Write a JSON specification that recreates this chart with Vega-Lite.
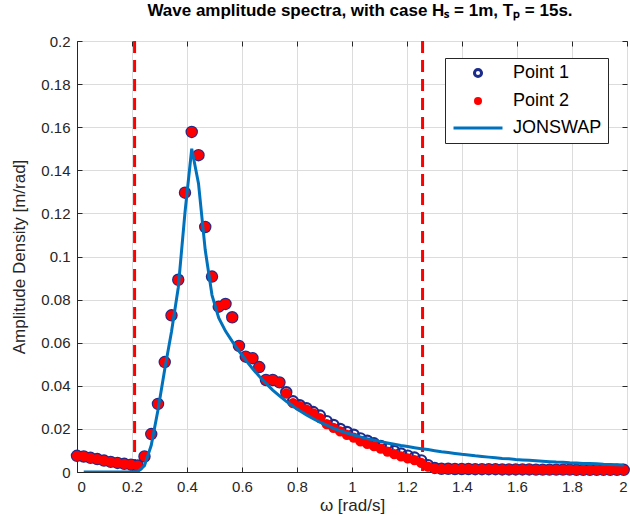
{
  "$schema": "https://vega.github.io/schema/vega-lite/v6.json",
  "autosize": {"type": "none"},
  "width": 550,
  "height": 431,
  "padding": {"left": 77, "top": 41, "right": 3, "bottom": 43},
  "background": "white",
  "title": {
    "text": "Wave amplitude spectra, with case Hₛ = 1m, Tₚ = 15s.",
    "font": "Liberation Sans",
    "fontSize": 17,
    "fontWeight": "bold",
    "color": "black",
    "anchor": "middle",
    "dx": 8,
    "offset": 14
  },
  "config": {
    "view": {"stroke": "#262626", "strokeWidth": 1},
    "axis": {
      "labelFont": "Liberation Sans",
      "titleFont": "Liberation Sans",
      "labelFontSize": 15,
      "titleFontSize": 17,
      "labelColor": "#262626",
      "titleColor": "#262626",
      "titleFontWeight": "normal",
      "domainColor": "#262626",
      "tickColor": "#262626",
      "gridColor": "#dcdcdc",
      "gridOpacity": 1
    },
    "legend": {
      "title": null,
      "orient": "none",
      "legendX": 368,
      "legendY": 17,
      "padding": 6,
      "strokeColor": "#262626",
      "fillColor": "white",
      "labelFont": "Liberation Sans",
      "labelFontSize": 18,
      "labelColor": "black",
      "symbolSize": 60,
      "symbolOffset": 18,
      "labelOffset": 26,
      "rowPadding": 9
    }
  },
  "datasets": {
    "pts": [
      {"w": 0, "a": 0.0075, "s": "Point 1"}, {"w": 0.0245, "a": 0.0072, "s": "Point 1"}, {"w": 0.0491, "a": 0.0066, "s": "Point 1"}, {"w": 0.0736, "a": 0.006, "s": "Point 1"}, {"w": 0.0982, "a": 0.0053, "s": "Point 1"}, {"w": 0.1227, "a": 0.0047, "s": "Point 1"}, {"w": 0.1473, "a": 0.0042, "s": "Point 1"}, {"w": 0.1718, "a": 0.0038, "s": "Point 1"}, {"w": 0.1963, "a": 0.0034, "s": "Point 1"}, {"w": 0.2209, "a": 0.003, "s": "Point 1"},
      {"w": 0.2454, "a": 0.0072, "s": "Point 1"}, {"w": 0.27, "a": 0.0176, "s": "Point 1"}, {"w": 0.2945, "a": 0.0316, "s": "Point 1"}, {"w": 0.3191, "a": 0.051, "s": "Point 1"}, {"w": 0.3436, "a": 0.0727, "s": "Point 1"}, {"w": 0.3682, "a": 0.0892, "s": "Point 1"}, {"w": 0.3927, "a": 0.1296, "s": "Point 1"}, {"w": 0.4172, "a": 0.1578, "s": "Point 1"}, {"w": 0.4418, "a": 0.147, "s": "Point 1"}, {"w": 0.4663, "a": 0.1137, "s": "Point 1"},
      {"w": 0.4909, "a": 0.0907, "s": "Point 1"}, {"w": 0.5154, "a": 0.0767, "s": "Point 1"}, {"w": 0.54, "a": 0.078, "s": "Point 1"}, {"w": 0.5645, "a": 0.0718, "s": "Point 1"}, {"w": 0.589, "a": 0.0585, "s": "Point 1"}, {"w": 0.6136, "a": 0.0535, "s": "Point 1"}, {"w": 0.6381, "a": 0.0528, "s": "Point 1"}, {"w": 0.6627, "a": 0.0487, "s": "Point 1"}, {"w": 0.6872, "a": 0.0427, "s": "Point 1"}, {"w": 0.7118, "a": 0.0427, "s": "Point 1"},
      {"w": 0.7363, "a": 0.0416, "s": "Point 1"}, {"w": 0.7609, "a": 0.037, "s": "Point 1"}, {"w": 0.7854, "a": 0.0328, "s": "Point 1"}, {"w": 0.8099, "a": 0.031, "s": "Point 1"}, {"w": 0.8345, "a": 0.0296, "s": "Point 1"}, {"w": 0.859, "a": 0.0278, "s": "Point 1"}, {"w": 0.8836, "a": 0.0262, "s": "Point 1"}, {"w": 0.9081, "a": 0.0236, "s": "Point 1"}, {"w": 0.9327, "a": 0.0218, "s": "Point 1"}, {"w": 0.9572, "a": 0.02, "s": "Point 1"},
      {"w": 0.9817, "a": 0.0186, "s": "Point 1"}, {"w": 1.0063, "a": 0.0173, "s": "Point 1"}, {"w": 1.0308, "a": 0.0156, "s": "Point 1"}, {"w": 1.0554, "a": 0.0145, "s": "Point 1"}, {"w": 1.0799, "a": 0.0133, "s": "Point 1"}, {"w": 1.1045, "a": 0.0121, "s": "Point 1"}, {"w": 1.129, "a": 0.0109, "s": "Point 1"}, {"w": 1.1536, "a": 0.0097, "s": "Point 1"}, {"w": 1.1781, "a": 0.0086, "s": "Point 1"}, {"w": 1.2026, "a": 0.0076, "s": "Point 1"},
      {"w": 1.2272, "a": 0.0067, "s": "Point 1"}, {"w": 1.2517, "a": 0.0054, "s": "Point 1"}, {"w": 1.2763, "a": 0.0032, "s": "Point 1"}, {"w": 1.3008, "a": 0.0019, "s": "Point 1"}, {"w": 1.3254, "a": 0.0015, "s": "Point 1"}, {"w": 1.3499, "a": 0.0015, "s": "Point 1"}, {"w": 1.3744, "a": 0.0014, "s": "Point 1"}, {"w": 1.399, "a": 0.0014, "s": "Point 1"}, {"w": 1.4235, "a": 0.0014, "s": "Point 1"}, {"w": 1.4481, "a": 0.0013, "s": "Point 1"},
      {"w": 1.4726, "a": 0.0013, "s": "Point 1"}, {"w": 1.4972, "a": 0.0013, "s": "Point 1"}, {"w": 1.5217, "a": 0.0013, "s": "Point 1"}, {"w": 1.5463, "a": 0.0012, "s": "Point 1"}, {"w": 1.5708, "a": 0.0012, "s": "Point 1"}, {"w": 1.5953, "a": 0.0012, "s": "Point 1"}, {"w": 1.6199, "a": 0.0012, "s": "Point 1"}, {"w": 1.6444, "a": 0.0012, "s": "Point 1"}, {"w": 1.669, "a": 0.0011, "s": "Point 1"}, {"w": 1.6935, "a": 0.0011, "s": "Point 1"},
      {"w": 1.7181, "a": 0.0011, "s": "Point 1"}, {"w": 1.7426, "a": 0.0011, "s": "Point 1"}, {"w": 1.7671, "a": 0.0011, "s": "Point 1"}, {"w": 1.7917, "a": 0.0011, "s": "Point 1"}, {"w": 1.8162, "a": 0.001, "s": "Point 1"}, {"w": 1.8408, "a": 0.001, "s": "Point 1"}, {"w": 1.8653, "a": 0.001, "s": "Point 1"}, {"w": 1.8899, "a": 0.001, "s": "Point 1"}, {"w": 1.9144, "a": 0.001, "s": "Point 1"}, {"w": 1.939, "a": 0.001, "s": "Point 1"},
      {"w": 1.9635, "a": 0.001, "s": "Point 1"}, {"w": 1.9881, "a": 0.001, "s": "Point 1"},

      {"w": 0, "a": 0.0075, "s": "Point 2"}, {"w": 0.0245, "a": 0.0072, "s": "Point 2"}, {"w": 0.0491, "a": 0.0066, "s": "Point 2"}, {"w": 0.0736, "a": 0.006, "s": "Point 2"}, {"w": 0.0982, "a": 0.0053, "s": "Point 2"}, {"w": 0.1227, "a": 0.0047, "s": "Point 2"}, {"w": 0.1473, "a": 0.0042, "s": "Point 2"}, {"w": 0.1718, "a": 0.0038, "s": "Point 2"}, {"w": 0.1963, "a": 0.0034, "s": "Point 2"}, {"w": 0.2209, "a": 0.003, "s": "Point 2"},
      {"w": 0.2454, "a": 0.0072, "s": "Point 2"}, {"w": 0.27, "a": 0.0176, "s": "Point 2"}, {"w": 0.2945, "a": 0.0316, "s": "Point 2"}, {"w": 0.3191, "a": 0.051, "s": "Point 2"}, {"w": 0.3436, "a": 0.0727, "s": "Point 2"}, {"w": 0.3682, "a": 0.0892, "s": "Point 2"}, {"w": 0.3927, "a": 0.1296, "s": "Point 2"}, {"w": 0.4172, "a": 0.1578, "s": "Point 2"}, {"w": 0.4418, "a": 0.147, "s": "Point 2"}, {"w": 0.4663, "a": 0.1137, "s": "Point 2"},
      {"w": 0.4909, "a": 0.0907, "s": "Point 2"}, {"w": 0.5154, "a": 0.0767, "s": "Point 2"}, {"w": 0.54, "a": 0.078, "s": "Point 2"}, {"w": 0.5645, "a": 0.0718, "s": "Point 2"}, {"w": 0.589, "a": 0.0585, "s": "Point 2"}, {"w": 0.6136, "a": 0.0535, "s": "Point 2"}, {"w": 0.6381, "a": 0.0528, "s": "Point 2"}, {"w": 0.6627, "a": 0.0487, "s": "Point 2"}, {"w": 0.6872, "a": 0.0427, "s": "Point 2"}, {"w": 0.7118, "a": 0.0427, "s": "Point 2"},
      {"w": 0.7363, "a": 0.0416, "s": "Point 2"}, {"w": 0.7609, "a": 0.0365, "s": "Point 2"}, {"w": 0.7854, "a": 0.032, "s": "Point 2"}, {"w": 0.8099, "a": 0.0306, "s": "Point 2"}, {"w": 0.8345, "a": 0.029, "s": "Point 2"}, {"w": 0.859, "a": 0.0272, "s": "Point 2"}, {"w": 0.8836, "a": 0.025, "s": "Point 2"}, {"w": 0.9081, "a": 0.0222, "s": "Point 2"}, {"w": 0.9327, "a": 0.0205, "s": "Point 2"}, {"w": 0.9572, "a": 0.0188, "s": "Point 2"},
      {"w": 0.9817, "a": 0.0172, "s": "Point 2"}, {"w": 1.0063, "a": 0.016, "s": "Point 2"}, {"w": 1.0308, "a": 0.0142, "s": "Point 2"}, {"w": 1.0554, "a": 0.013, "s": "Point 2"}, {"w": 1.0799, "a": 0.012, "s": "Point 2"}, {"w": 1.1045, "a": 0.0108, "s": "Point 2"}, {"w": 1.129, "a": 0.0095, "s": "Point 2"}, {"w": 1.1536, "a": 0.0083, "s": "Point 2"}, {"w": 1.1781, "a": 0.0072, "s": "Point 2"}, {"w": 1.2026, "a": 0.0063, "s": "Point 2"},
      {"w": 1.2272, "a": 0.0055, "s": "Point 2"}, {"w": 1.2517, "a": 0.0042, "s": "Point 2"}, {"w": 1.2763, "a": 0.0025, "s": "Point 2"}, {"w": 1.3008, "a": 0.0017, "s": "Point 2"}, {"w": 1.3254, "a": 0.0015, "s": "Point 2"}, {"w": 1.3499, "a": 0.0015, "s": "Point 2"}, {"w": 1.3744, "a": 0.0014, "s": "Point 2"}, {"w": 1.399, "a": 0.0014, "s": "Point 2"}, {"w": 1.4235, "a": 0.0014, "s": "Point 2"}, {"w": 1.4481, "a": 0.0013, "s": "Point 2"},
      {"w": 1.4726, "a": 0.0013, "s": "Point 2"}, {"w": 1.4972, "a": 0.0013, "s": "Point 2"}, {"w": 1.5217, "a": 0.0013, "s": "Point 2"}, {"w": 1.5463, "a": 0.0012, "s": "Point 2"}, {"w": 1.5708, "a": 0.0012, "s": "Point 2"}, {"w": 1.5953, "a": 0.0012, "s": "Point 2"}, {"w": 1.6199, "a": 0.0012, "s": "Point 2"}, {"w": 1.6444, "a": 0.0012, "s": "Point 2"}, {"w": 1.669, "a": 0.0011, "s": "Point 2"}, {"w": 1.6935, "a": 0.0011, "s": "Point 2"},
      {"w": 1.7181, "a": 0.0011, "s": "Point 2"}, {"w": 1.7426, "a": 0.0011, "s": "Point 2"}, {"w": 1.7671, "a": 0.0011, "s": "Point 2"}, {"w": 1.7917, "a": 0.0011, "s": "Point 2"}, {"w": 1.8162, "a": 0.001, "s": "Point 2"}, {"w": 1.8408, "a": 0.001, "s": "Point 2"}, {"w": 1.8653, "a": 0.001, "s": "Point 2"}, {"w": 1.8899, "a": 0.001, "s": "Point 2"}, {"w": 1.9144, "a": 0.001, "s": "Point 2"}, {"w": 1.939, "a": 0.001, "s": "Point 2"},
      {"w": 1.9635, "a": 0.001, "s": "Point 2"}, {"w": 1.9881, "a": 0.001, "s": "Point 2"}
    ],
    "jons": [
      {"w": 0.0245, "a": 0, "s": "JONSWAP"}, {"w": 0.0491, "a": 0, "s": "JONSWAP"}, {"w": 0.0736, "a": 0, "s": "JONSWAP"}, {"w": 0.0982, "a": 0, "s": "JONSWAP"}, {"w": 0.1227, "a": 0, "s": "JONSWAP"}, {"w": 0.1473, "a": 0, "s": "JONSWAP"}, {"w": 0.1718, "a": 0, "s": "JONSWAP"}, {"w": 0.1963, "a": 0, "s": "JONSWAP"}, {"w": 0.2209, "a": 0.0002, "s": "JONSWAP"},
      {"w": 0.2454, "a": 0.0029, "s": "JONSWAP"}, {"w": 0.27, "a": 0.0124, "s": "JONSWAP"}, {"w": 0.2945, "a": 0.0288, "s": "JONSWAP"}, {"w": 0.3191, "a": 0.0477, "s": "JONSWAP"}, {"w": 0.3436, "a": 0.0651, "s": "JONSWAP"}, {"w": 0.3682, "a": 0.0855, "s": "JONSWAP"}, {"w": 0.3927, "a": 0.1205, "s": "JONSWAP"}, {"w": 0.4172, "a": 0.15, "s": "JONSWAP"}, {"w": 0.4418, "a": 0.1339, "s": "JONSWAP"}, {"w": 0.4663, "a": 0.103, "s": "JONSWAP"},
      {"w": 0.4909, "a": 0.0821, "s": "JONSWAP"}, {"w": 0.5154, "a": 0.0715, "s": "JONSWAP"}, {"w": 0.54, "a": 0.0654, "s": "JONSWAP"}, {"w": 0.5645, "a": 0.0606, "s": "JONSWAP"}, {"w": 0.589, "a": 0.0561, "s": "JONSWAP"}, {"w": 0.6136, "a": 0.0519, "s": "JONSWAP"}, {"w": 0.6381, "a": 0.048, "s": "JONSWAP"}, {"w": 0.6627, "a": 0.0444, "s": "JONSWAP"}, {"w": 0.6872, "a": 0.0411, "s": "JONSWAP"}, {"w": 0.7118, "a": 0.038, "s": "JONSWAP"},
      {"w": 0.7363, "a": 0.0353, "s": "JONSWAP"}, {"w": 0.7609, "a": 0.0328, "s": "JONSWAP"}, {"w": 0.7854, "a": 0.0305, "s": "JONSWAP"}, {"w": 0.8099, "a": 0.0284, "s": "JONSWAP"}, {"w": 0.8345, "a": 0.0265, "s": "JONSWAP"}, {"w": 0.859, "a": 0.0247, "s": "JONSWAP"}, {"w": 0.8836, "a": 0.0231, "s": "JONSWAP"}, {"w": 0.9081, "a": 0.0217, "s": "JONSWAP"}, {"w": 0.9327, "a": 0.0203, "s": "JONSWAP"}, {"w": 0.9572, "a": 0.0191, "s": "JONSWAP"},
      {"w": 0.9817, "a": 0.0181, "s": "JONSWAP"}, {"w": 1.0063, "a": 0.0172, "s": "JONSWAP"}, {"w": 1.0308, "a": 0.0163, "s": "JONSWAP"}, {"w": 1.0554, "a": 0.0155, "s": "JONSWAP"}, {"w": 1.0799, "a": 0.0148, "s": "JONSWAP"}, {"w": 1.1045, "a": 0.0141, "s": "JONSWAP"}, {"w": 1.129, "a": 0.0135, "s": "JONSWAP"}, {"w": 1.1536, "a": 0.0129, "s": "JONSWAP"}, {"w": 1.1781, "a": 0.0123, "s": "JONSWAP"}, {"w": 1.2026, "a": 0.0118, "s": "JONSWAP"},
      {"w": 1.2272, "a": 0.0113, "s": "JONSWAP"}, {"w": 1.2517, "a": 0.0108, "s": "JONSWAP"}, {"w": 1.2763, "a": 0.0104, "s": "JONSWAP"}, {"w": 1.3008, "a": 0.0099, "s": "JONSWAP"}, {"w": 1.3254, "a": 0.0094, "s": "JONSWAP"}, {"w": 1.3499, "a": 0.009, "s": "JONSWAP"}, {"w": 1.3744, "a": 0.0086, "s": "JONSWAP"}, {"w": 1.399, "a": 0.0082, "s": "JONSWAP"}, {"w": 1.4235, "a": 0.0079, "s": "JONSWAP"}, {"w": 1.4481, "a": 0.0075, "s": "JONSWAP"},
      {"w": 1.4726, "a": 0.0072, "s": "JONSWAP"}, {"w": 1.4972, "a": 0.0069, "s": "JONSWAP"}, {"w": 1.5217, "a": 0.0066, "s": "JONSWAP"}, {"w": 1.5463, "a": 0.0063, "s": "JONSWAP"}, {"w": 1.5708, "a": 0.0061, "s": "JONSWAP"}, {"w": 1.5953, "a": 0.0058, "s": "JONSWAP"}, {"w": 1.6199, "a": 0.0056, "s": "JONSWAP"}, {"w": 1.6444, "a": 0.0054, "s": "JONSWAP"}, {"w": 1.669, "a": 0.0052, "s": "JONSWAP"}, {"w": 1.6935, "a": 0.005, "s": "JONSWAP"},
      {"w": 1.7181, "a": 0.0048, "s": "JONSWAP"}, {"w": 1.7426, "a": 0.0046, "s": "JONSWAP"}, {"w": 1.7671, "a": 0.0045, "s": "JONSWAP"}, {"w": 1.7917, "a": 0.0043, "s": "JONSWAP"}, {"w": 1.8162, "a": 0.0042, "s": "JONSWAP"}, {"w": 1.8408, "a": 0.004, "s": "JONSWAP"}, {"w": 1.8653, "a": 0.0039, "s": "JONSWAP"}, {"w": 1.8899, "a": 0.0038, "s": "JONSWAP"}, {"w": 1.9144, "a": 0.0036, "s": "JONSWAP"}, {"w": 1.939, "a": 0.0035, "s": "JONSWAP"},
      {"w": 1.9635, "a": 0.0034, "s": "JONSWAP"}, {"w": 1.9881, "a": 0.0033, "s": "JONSWAP"}
    ],
    "marks": [{"w": 0.2094}, {"w": 1.2566}]
  },
  "layer": [
    {
      "data": {"name": "marks"},
      "mark": {"type": "rule", "color": "#ff0000", "strokeWidth": 3, "strokeDash": [12, 7]},
      "encoding": {
        "x": {"field": "w", "type": "quantitative", "scale": {"domain": [0, 2], "nice": false},
          "axis": {"orient": "top", "labels": false, "title": null, "grid": false, "domain": false, "tickSize": -5, "values": [0, 0.2, 0.4, 0.6, 0.8, 1, 1.2, 1.4, 1.6, 1.8, 2]}}
      }
    },
    {
      "data": {"name": "pts"},
      "transform": [{"filter": "datum.s === 'Point 1'"}],
      "mark": {"type": "point", "filled": false, "strokeWidth": 2.2, "size": 105, "opacity": 1, "shape": "circle"},
      "encoding": {
        "x": {"field": "w", "type": "quantitative", "axis": null},
        "y": {"field": "a", "type": "quantitative", "scale": {"domain": [0, 0.2], "nice": false},
          "axis": {"orient": "right", "labels": false, "title": null, "grid": false, "domain": false, "tickSize": -5, "values": [0, 0.02, 0.04, 0.06, 0.08, 0.1, 0.12, 0.14, 0.16, 0.18, 0.2]}},
        "color": {"field": "s", "type": "nominal",
          "scale": {"domain": ["Point 1", "Point 2", "JONSWAP"], "range": ["#1c2c8c", "#ff0000", "#0072bd"]},
          "legend": {
            "encode": {
              "symbols": {
                "update": {
                  "shape": {"signal": "datum.value === 'JONSWAP' ? 'stroke' : 'circle'"},
                  "size": {"signal": "datum.value === 'JONSWAP' ? 2400 : (datum.value === 'Point 1' ? 50 : 64)"},
                  "fill": {"signal": "datum.value === 'Point 2' ? '#ff0000' : '#ffffff'"},
                  "fillOpacity": {"signal": "datum.value === 'Point 2' ? 1 : 0"},
                  "stroke": {"signal": "datum.value === 'Point 1' ? '#1c2c8c' : (datum.value === 'JONSWAP' ? '#0072bd' : '#ff0000')"},
                  "strokeWidth": {"signal": "datum.value === 'Point 2' ? 0 : 3"},
                  "opacity": {"value": 1},
                  "strokeOpacity": {"value": 1}
                }
              }
            }
          }
        }
      }
    },
    {
      "data": {"name": "pts"},
      "transform": [{"filter": "datum.s === 'Point 2'"}],
      "mark": {"type": "circle", "size": 105, "opacity": 1},
      "encoding": {
        "x": {"field": "w", "type": "quantitative", "axis": null},
        "y": {"field": "a", "type": "quantitative", "axis": null},
        "color": {"field": "s", "type": "nominal",
          "legend": {
            "encode": {
              "symbols": {
                "update": {
                  "shape": {"signal": "datum.value === 'JONSWAP' ? 'stroke' : 'circle'"},
                  "size": {"signal": "datum.value === 'JONSWAP' ? 2400 : (datum.value === 'Point 1' ? 50 : 64)"},
                  "fill": {"signal": "datum.value === 'Point 2' ? '#ff0000' : '#ffffff'"},
                  "fillOpacity": {"signal": "datum.value === 'Point 2' ? 1 : 0"},
                  "stroke": {"signal": "datum.value === 'Point 1' ? '#1c2c8c' : (datum.value === 'JONSWAP' ? '#0072bd' : '#ff0000')"},
                  "strokeWidth": {"signal": "datum.value === 'Point 2' ? 0 : 3"},
                  "opacity": {"value": 1},
                  "strokeOpacity": {"value": 1}
                }
              }
            }
          }
        }
      }
    },
    {
      "data": {"name": "jons"},
      "mark": {"type": "line", "strokeWidth": 3, "clip": true},
      "encoding": {
        "x": {"field": "w", "type": "quantitative",
          "axis": {"orient": "bottom", "title": "ω [rad/s]", "grid": true, "tickSize": -5, "labelPadding": 12, "titlePadding": 3, "format": "~g", "values": [0, 0.2, 0.4, 0.6, 0.8, 1, 1.2, 1.4, 1.6, 1.8, 2]}},
        "y": {"field": "a", "type": "quantitative",
          "axis": {"orient": "left", "title": "Amplitude Density [m/rad]", "grid": true, "tickSize": -5, "labelPadding": 12, "titlePadding": 12, "format": "~g", "values": [0, 0.02, 0.04, 0.06, 0.08, 0.1, 0.12, 0.14, 0.16, 0.18, 0.2]}},
        "color": {"field": "s", "type": "nominal",
          "legend": {
            "encode": {
              "symbols": {
                "update": {
                  "shape": {"signal": "datum.value === 'JONSWAP' ? 'stroke' : 'circle'"},
                  "size": {"signal": "datum.value === 'JONSWAP' ? 2400 : (datum.value === 'Point 1' ? 50 : 64)"},
                  "fill": {"signal": "datum.value === 'Point 2' ? '#ff0000' : '#ffffff'"},
                  "fillOpacity": {"signal": "datum.value === 'Point 2' ? 1 : 0"},
                  "stroke": {"signal": "datum.value === 'Point 1' ? '#1c2c8c' : (datum.value === 'JONSWAP' ? '#0072bd' : '#ff0000')"},
                  "strokeWidth": {"signal": "datum.value === 'Point 2' ? 0 : 3"},
                  "opacity": {"value": 1},
                  "strokeOpacity": {"value": 1}
                }
              }
            }
          }
        }
      }
    }
  ],
  "resolve": {"axis": {"x": "independent", "y": "independent"}}
}
